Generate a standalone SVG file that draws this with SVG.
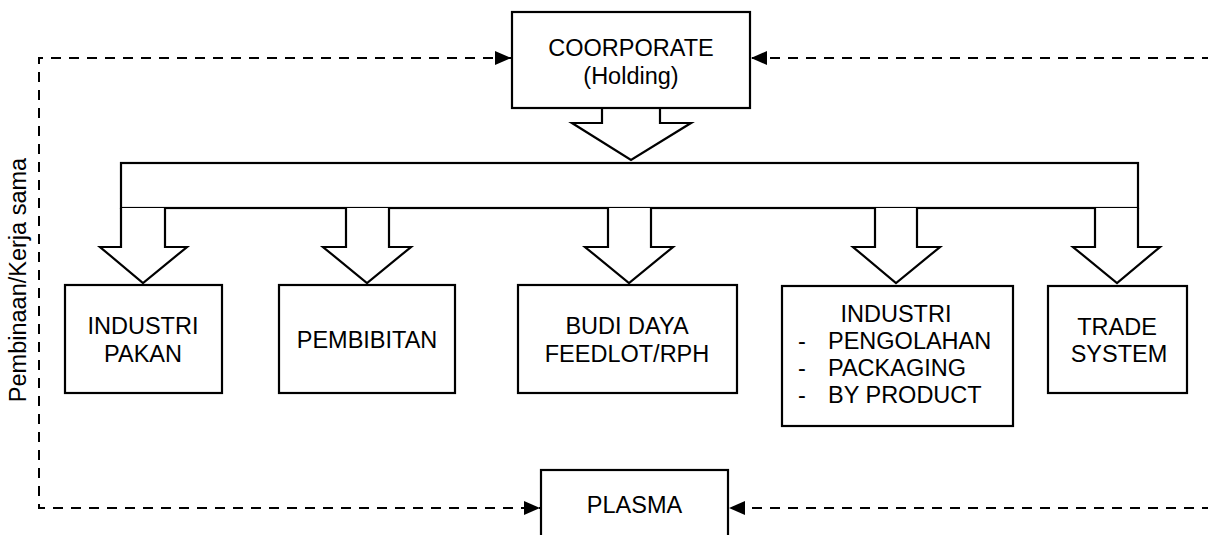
<svg xmlns="http://www.w3.org/2000/svg" width="1208" height="535" viewBox="0 0 1208 535">
<style>
.box{fill:#fff;stroke:#000;stroke-width:2.2}
.blk{fill:#fff;stroke:#000;stroke-width:2.2;stroke-linejoin:miter}
.t{font-family:"Liberation Sans",Arial,sans-serif;font-size:23.5px;fill:#000}
.c{text-anchor:middle}
.dash{fill:none;stroke:#000;stroke-width:2;stroke-dasharray:10 8}
</style>
<defs>
<marker id="ah" viewBox="0 0 16 14" refX="16" refY="7" markerWidth="16" markerHeight="14" markerUnits="userSpaceOnUse" orient="auto-start-reverse">
<path d="M0,0 L16,7 L0,14 z" fill="#000"/>
</marker>
</defs>
<rect width="1208" height="535" fill="#fff"/>
<g id="connectors">
<path class="dash" d="M511,58 H39 V508 H540" marker-start="url(#ah)" marker-end="url(#ah)"/>
<path class="dash" d="M1212,58 H751" marker-end="url(#ah)"/>
<path class="dash" d="M1212,508 H729" marker-end="url(#ah)"/>
<polygon class="blk" points="602,108 660,108 660,123 691,123 631,160 572,123 602,123"/>
<rect id="bar" class="box" x="121" y="163" width="1017" height="45"/>
<polyline class="blk" points="121,208 121,247 100,247 143,283 187,247 165,247 165,208"/>
<polyline class="blk" points="346,208 346,247 323,247 367,283 411,247 389,247 389,208"/>
<polyline class="blk" points="608,208 608,247 585,247 629,283 673,247 651,247 651,208"/>
<polyline class="blk" points="875,208 875,247 853,247 896,283 940,247 917,247 917,208"/>
<polyline class="blk" points="1095,208 1095,247 1073,247 1117,283 1160,247 1138,247 1138,208"/>
</g>
<text class="t c" transform="translate(26,280) rotate(-90)">Pembinaan/Kerja sama</text>
<g id="coorporate">
<rect class="box" x="512" y="12" width="238" height="96"/>
<text class="t c" x="631" y="56">COORPORATE</text>
<text class="t c" x="631" y="84">(Holding)</text>
</g>
<g id="industri-pakan">
<rect class="box" x="65" y="285" width="157" height="108"/>
<text class="t c" x="143" y="334">INDUSTRI</text>
<text class="t c" x="143" y="362">PAKAN</text>
</g>
<g id="pembibitan">
<rect class="box" x="279" y="285" width="176" height="108"/>
<text class="t c" x="367" y="348">PEMBIBITAN</text>
</g>
<g id="budi-daya">
<rect class="box" x="518" y="285" width="219" height="108"/>
<text class="t c" x="627" y="334">BUDI DAYA</text>
<text class="t c" x="627" y="362">FEEDLOT/RPH</text>
</g>
<g id="industri">
<rect class="box" x="782" y="286" width="231" height="140"/>
<text class="t c" x="896" y="322">INDUSTRI</text>
<text class="t" x="798" y="349">-</text>
<text class="t" x="828" y="349">PENGOLAHAN</text>
<text class="t" x="798" y="376">-</text>
<text class="t" x="828" y="376">PACKAGING</text>
<text class="t" x="798" y="403">-</text>
<text class="t" x="828" y="403">BY PRODUCT</text>
</g>
<g id="trade-system">
<rect class="box" x="1048" y="286" width="139" height="107"/>
<text class="t c" x="1117" y="335">TRADE</text>
<text class="t c" x="1119" y="362">SYSTEM</text>
</g>
<g id="plasma">
<rect class="box" x="541" y="470" width="187" height="80"/>
<text class="t c" x="634.5" y="513">PLASMA</text>
</g>
</svg>
